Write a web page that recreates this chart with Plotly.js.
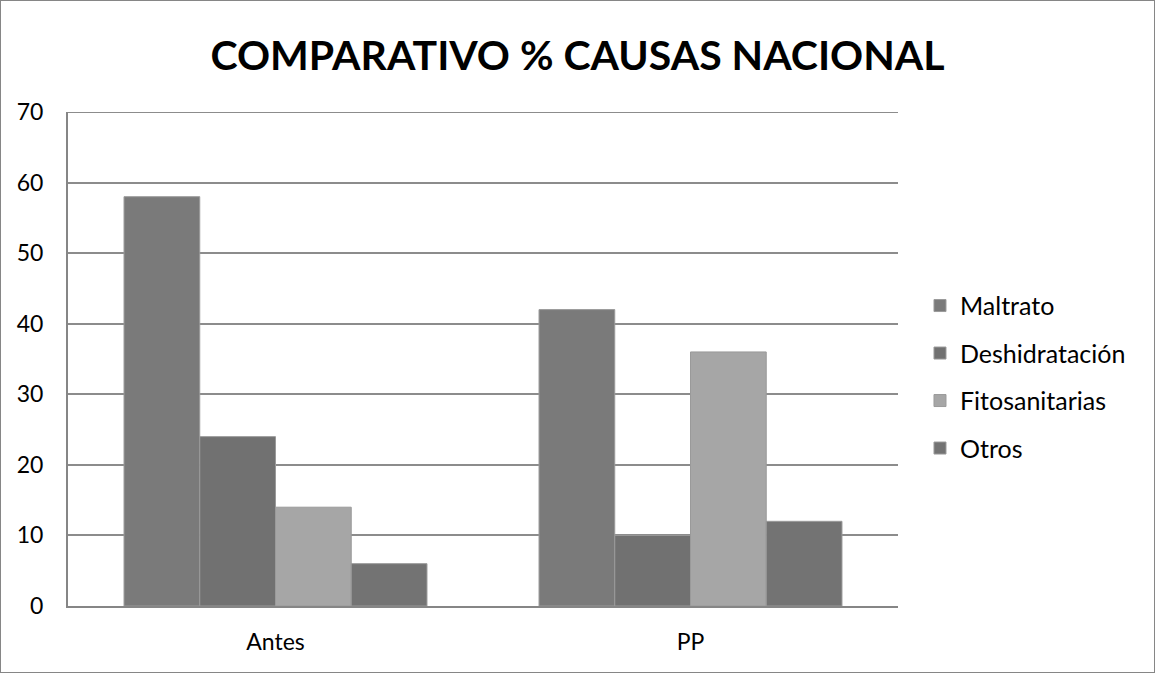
<!DOCTYPE html>
<html><head><meta charset="utf-8">
<script src="https://cdn.plot.ly/plotly-3.0.1.min.js"></script>
<style>html,body{margin:0;padding:0;background:#fff}#wrap{width:1153px;height:671px;border:1px solid #868686;}</style>
</head><body><div id="wrap"><div id="chart" style="width:1153px;height:671px"></div></div>
<script>
const categories = ["Antes", "PP"];
const seriesNames = ["Maltrato", "Deshidratación", "Fitosanitarias", "Otros"];
const maltrato = [58, 42];
const deshidratacion = [24, 10];
const fitosanitarias = [14, 36];
const otros = [6, 12];
const yTicks = [0, 10, 20, 30, 40, 50, 60, 70];
const colors = ["#7a7a7a", "#717171", "#a6a6a6", "#737373"];
const values = [maltrato, deshidratacion, fitosanitarias, otros];
const font = "Lato, 'Open Sans', sans-serif";
const yMax = yTicks[yTicks.length - 1];
const traces = seriesNames.map((n, i) => ({
  type: "bar", name: n, x: categories, y: values[i], legendgroup: "g" + i,
  marker: {color: colors[i], line: {color: "#9a9a9a", width: 1}}, hoverinfo: "skip"
}));
const layout = {
  width: 1153, height: 671,
  margin: {l: 67, r: 256, t: 111, b: 66},
  paper_bgcolor: "#fff", plot_bgcolor: "#fff",
  title: {text: "<b>COMPARATIVO % CAUSAS NACIONAL</b>", font: {family: font, size: 41, color: "#000"}, x: 0.5, xanchor: "center", y: 0.918, yanchor: "middle"},
  barmode: "group", bargap: 0.27, bargroupgap: 0,
  xaxis: {showgrid: false, showline: true, linecolor: "#868686", linewidth: 2, ticks: "", tickfont: {family: font, size: 23, color: "#000"}, ticklabelstandoff: 14},
  yaxis: {range: [0, yMax], tickvals: yTicks, showgrid: true, gridcolor: "#8c8c8c", gridwidth: 2, showline: true, linecolor: "#868686", linewidth: 2, zeroline: false, ticks: "", tickfont: {family: font, size: 23, color: "#000"}, ticklabelstandoff: 18},
  shapes: [{type: "line", xref: "paper", yref: "y", x0: 0, x1: 1, y0: yMax, y1: yMax, line: {color: "#8c8c8c", width: 2}, layer: "below"}],
  legend: {x: 1.0265, xanchor: "left", y: 0.464, yanchor: "middle", xref: "paper", font: {family: font, size: 25, color: "#000"}, tracegroupgap: 12, itemwidth: 30},
  showlegend: true
};
Plotly.newPlot("chart", traces, layout, {staticPlot: true});
</script></body></html>
